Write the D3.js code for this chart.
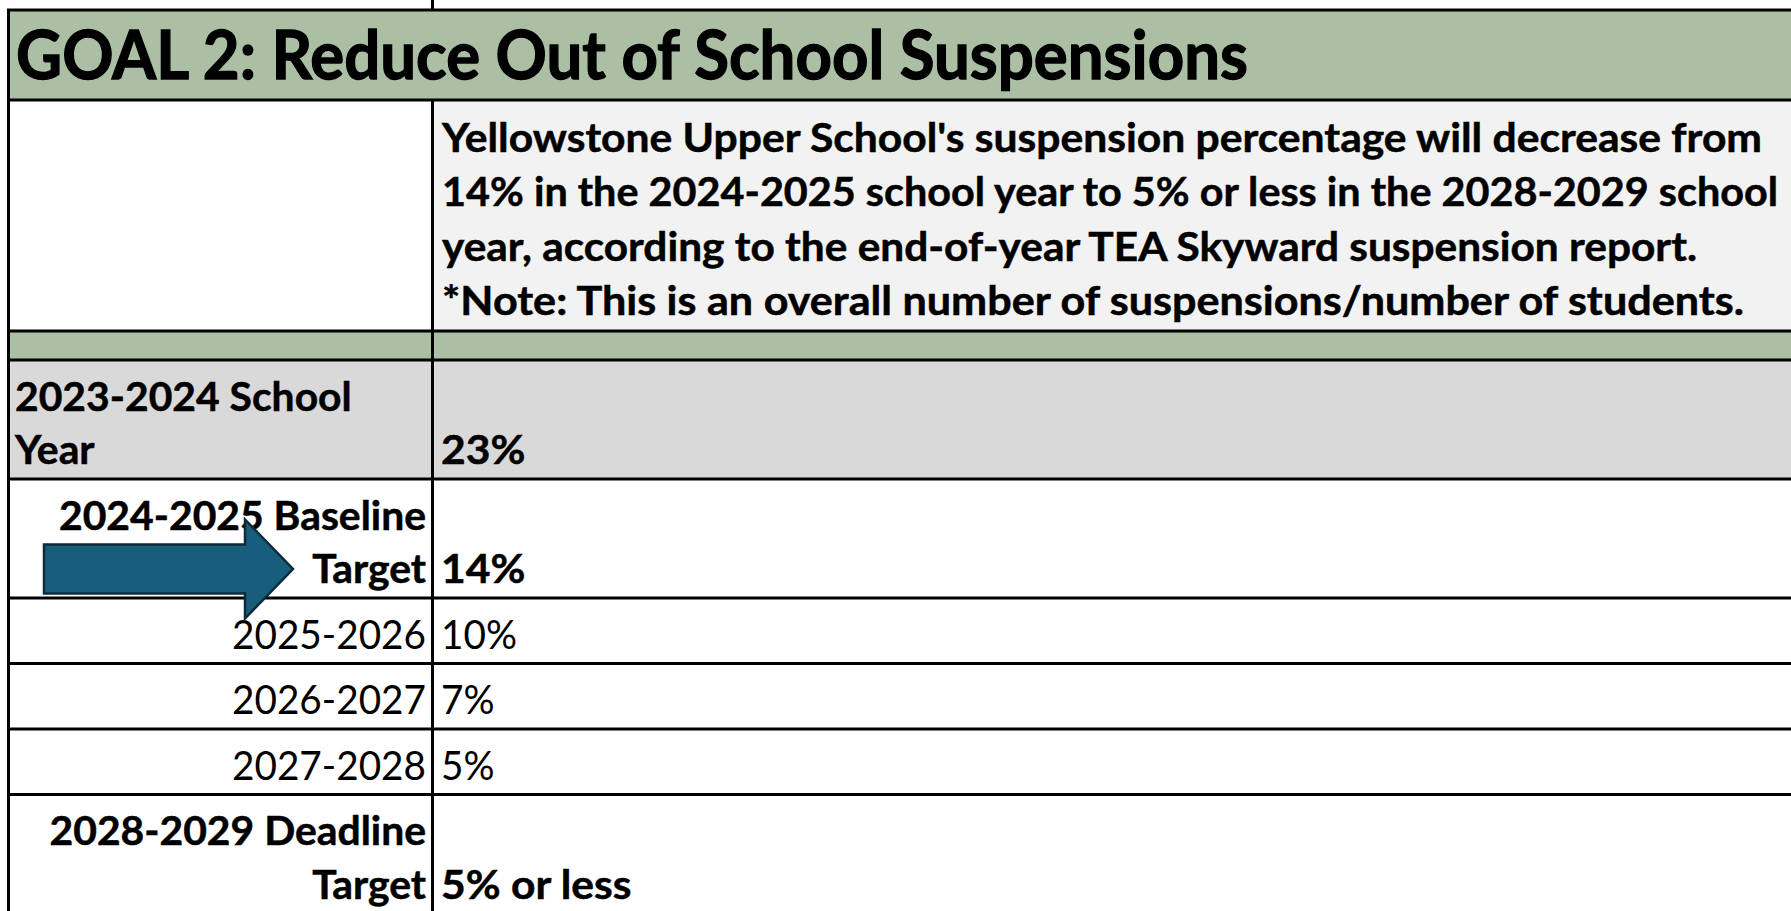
<!DOCTYPE html>
<html>
<head>
<meta charset="utf-8">
<script src="https://cdn.jsdelivr.net/npm/d3@7"></script>
<style>
  body { margin: 0; background: #fff; overflow: hidden; }
  text { font-family: Lato, "Open Sans", sans-serif; fill: #000; }
</style>
</head>
<body>
<div id="meta"></div>
<script>
// data
var goalTitle = "GOAL 2: Reduce Out of School Suspensions";
var goalText = [
  "Yellowstone Upper School's suspension percentage will decrease from",
  "14% in the 2024-2025 school year to 5% or less in the 2028-2029 school",
  "year, according to the end-of-year TEA Skyward suspension report.",
  "*Note: This is an overall number of suspensions/number of students."
];
var schoolYears = [
  ["2023-2024 School", "Year"],
  ["2024-2025 Baseline", "Target"],
  ["2025-2026"],
  ["2026-2027"],
  ["2027-2028"],
  ["2028-2029 Deadline", "Target"]
];
var percentages = ["23%", "14%", "10%", "7%", "5%", "5% or less"];
var boldRows = [true, true, false, false, false, true];
var arrowRow = 1;

// layout
var W = 1791, H = 911;
var xLeft = 8.5, xDiv = 432.5;
var lineH = 53.5, rowPad = 12;
var descEnds = [1762, 1778, 1697, 1744];   // right end of each goal line (px)
var green = "#abbfa4", grey = "#d9d9d9", pale = "#f2f2f2";

var svg = d3.select("#meta").append("svg")
    .attr("width", W)
    .attr("height", H);

var rowH = schoolYears.map(d => rowPad + d.length * lineH);
var rowTop = [360].concat(Array.from(d3.cumsum(rowH), d => 360 + d));

// backgrounds
svg.append("rect").attr("x", xLeft).attr("y", 10).attr("width", W).attr("height", 90).attr("fill", green);
svg.append("rect").attr("x", xDiv).attr("y", 100).attr("width", W).attr("height", 231).attr("fill", pale);
svg.append("rect").attr("x", xLeft).attr("y", 331).attr("width", W).attr("height", 29).attr("fill", green);
svg.append("rect").attr("x", xLeft).attr("y", rowTop[0]).attr("width", W)
    .attr("height", rowH[0]).attr("fill", grey);

// grid lines
var hLines = [10, 100, 331].concat(rowTop.slice(0, rowTop.length - 1));
svg.selectAll("line.h").data(hLines).enter()
  .append("line")
    .attr("class", "h")
    .attr("x1", xLeft - 1.5).attr("x2", W)
    .attr("y1", d => d).attr("y2", d => d)
    .attr("stroke", "#000").attr("stroke-width", 3);

svg.append("line").attr("x1", xLeft).attr("x2", xLeft).attr("y1", 10).attr("y2", H)
    .attr("stroke", "#000").attr("stroke-width", 3);
svg.append("line").attr("x1", xDiv).attr("x2", xDiv).attr("y1", 0).attr("y2", 10)
    .attr("stroke", "#000").attr("stroke-width", 3);
svg.append("line").attr("x1", xDiv).attr("x2", xDiv).attr("y1", 100).attr("y2", H)
    .attr("stroke", "#000").attr("stroke-width", 3);

// texts
function fit(sel, k) {
  sel.each(function() {
    var w = this.getComputedTextLength();
    d3.select(this).attr("textLength", w * k).attr("lengthAdjust", "spacingAndGlyphs");
  });
}

var title = svg.append("text")
    .attr("x", 16).attr("y", 79)
    .attr("font-size", 67).attr("font-weight", 700)
    .attr("stroke", "#000").attr("stroke-width", 1.3)
    .text(goalTitle);
fit(title, 1232 / title.node().getComputedTextLength());

var desc = svg.selectAll("text.desc").data(goalText).enter()
  .append("text")
    .attr("class", "desc")
    .attr("x", 442)
    .attr("y", (d, i) => 315 - (goalText.length - 1 - i) * 54.3)
    .attr("font-size", 40).attr("font-weight", 700)
    .attr("stroke", "#000").attr("stroke-width", 0.5)
    .text(d => d);
var kBold = (descEnds[0] - 442) / desc.node().getComputedTextLength();
desc.each(function(d, i) {
  d3.select(this).attr("textLength", descEnds[i] - 442).attr("lengthAdjust", "spacingAndGlyphs");
});

var rows = svg.selectAll("g.row").data(schoolYears).enter()
  .append("g")
    .attr("class", "row");

var kReg = null, kLab = null;
rows.each(function(lines, r) {
  var g = d3.select(this);
  var bottom = rowTop[r + 1];
  var wt = boldRows[r] ? 700 : 400;
  var lab = g.selectAll("text.lab").data(lines).enter()
    .append("text")
      .attr("class", "lab")
      .attr("x", r == 0 ? 15 : 426)
      .attr("text-anchor", r == 0 ? "start" : "end")
      .attr("y", (d, i) => bottom - 15 - (lines.length - 1 - i) * lineH)
      .attr("font-size", 40).attr("font-weight", wt)
      .attr("stroke", boldRows[r] ? "#000" : "none").attr("stroke-width", 0.5)
      .text(d => d);
  if (!boldRows[r] && kReg == null) kReg = 194 / lab.node().getComputedTextLength();
  if (r == arrowRow) kLab = 367 / lab.node().getComputedTextLength();
  g.append("text")
      .attr("class", "val")
      .attr("x", 441)
      .attr("y", bottom - 15)
      .attr("font-size", 40).attr("font-weight", wt)
      .attr("stroke", boldRows[r] ? "#000" : "none").attr("stroke-width", 0.5)
      .text(percentages[r]);
});
rows.each(function(lines, r) {
  var g = d3.select(this);
  fit(g.selectAll("text.lab"), boldRows[r] ? kLab : kReg);
  fit(g.selectAll("text.val"), boldRows[r] ? kBold : kReg);
});

// arrow pointing at the baseline target
var cy = rowTop[arrowRow + 1] - 29;
var arrow = d3.path();
arrow.moveTo(44, cy - 24.5);
arrow.lineTo(245, cy - 24.5);
arrow.lineTo(245, cy - 49.5);
arrow.lineTo(293, cy);
arrow.lineTo(245, cy + 49.5);
arrow.lineTo(245, cy + 24.5);
arrow.lineTo(44, cy + 24.5);
arrow.closePath();
svg.append("path")
    .attr("d", arrow.toString())
    .attr("fill", "#175d7c")
    .attr("stroke", "#0d2b3b")
    .attr("stroke-width", 2.5);
</script>
</body>
</html>
